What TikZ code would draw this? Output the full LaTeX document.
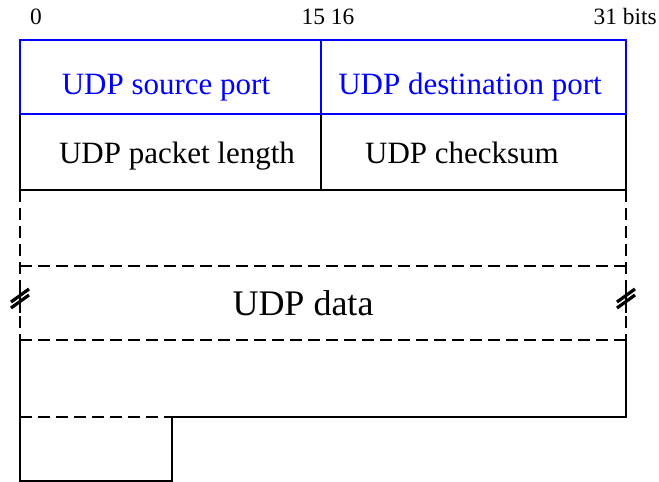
\documentclass[tikz,border=0pt]{standalone}
\usepackage{fontspec}
\setmainfont{Liberation Serif}
\begin{document}
\begin{tikzpicture}[
    x=0.5pt, y=-0.5pt,
    line width=1.3pt,
    bitlabel/.style={font=\fontsize{11.7}{14}\selectfont, inner sep=0pt, anchor=base},
    fieldname/.style={font=\fontsize{15.5}{18}\selectfont, inner sep=0pt, anchor=base},
    dataname/.style={font=\fontsize{18}{21}\selectfont, inner sep=0pt, anchor=base},
    gapline/.style={dash pattern=on 6pt off 3pt},
    breakmark/.style={line width=1.6pt}
    ]
	\useasboundingbox (0,0) rectangle (659,482);
	% bit numbers
	\node [bitlabel] (b0) at (36,25) {0};
	\node [bitlabel] (b15) at (328,25) {15 16};
	\node [bitlabel, anchor=base east] (b31) at (658,25) {31 bits};
	% second word
	\draw (20,114) -- (20,190) -- (626,190) -- (626,114);
	\draw (321,114) -- (321,190);
	\node [fieldname] (len) at (177,163) {UDP packet length};
	\node [fieldname] (csum) at (462,163) {UDP checksum};
	% first word
	\draw [blue] (20,40) rectangle (626,114);
	\draw [blue] (321,40) -- (321,114);
	\node [fieldname, blue] (src) at (166,94) {UDP source port};
	\node [fieldname, blue] (dst) at (470,94) {UDP destination port};
	% data
	\draw [gapline] (20,190) -- (20,340);
	\draw [gapline] (626,190) -- (626,340);
	\draw [gapline] (20,266) -- (626,266);
	\draw [gapline] (20,340) -- (626,340);
	\node [dataname] (data) at (303,315) {UDP data};
	\foreach \bx in {20,626} {
		\draw (\bx,282) -- (\bx,313);
		\draw [breakmark] (\bx-9,302) -- (\bx+9,289);
		\draw [breakmark] (\bx-9,308) -- (\bx+9,295);
	}
	% last words
	\draw (20,340) -- (20,481) -- (172,481) -- (172,417) -- (626,417) -- (626,340);
	\draw [gapline] (20,417) -- (172,417);
\end{tikzpicture}
\end{document}
